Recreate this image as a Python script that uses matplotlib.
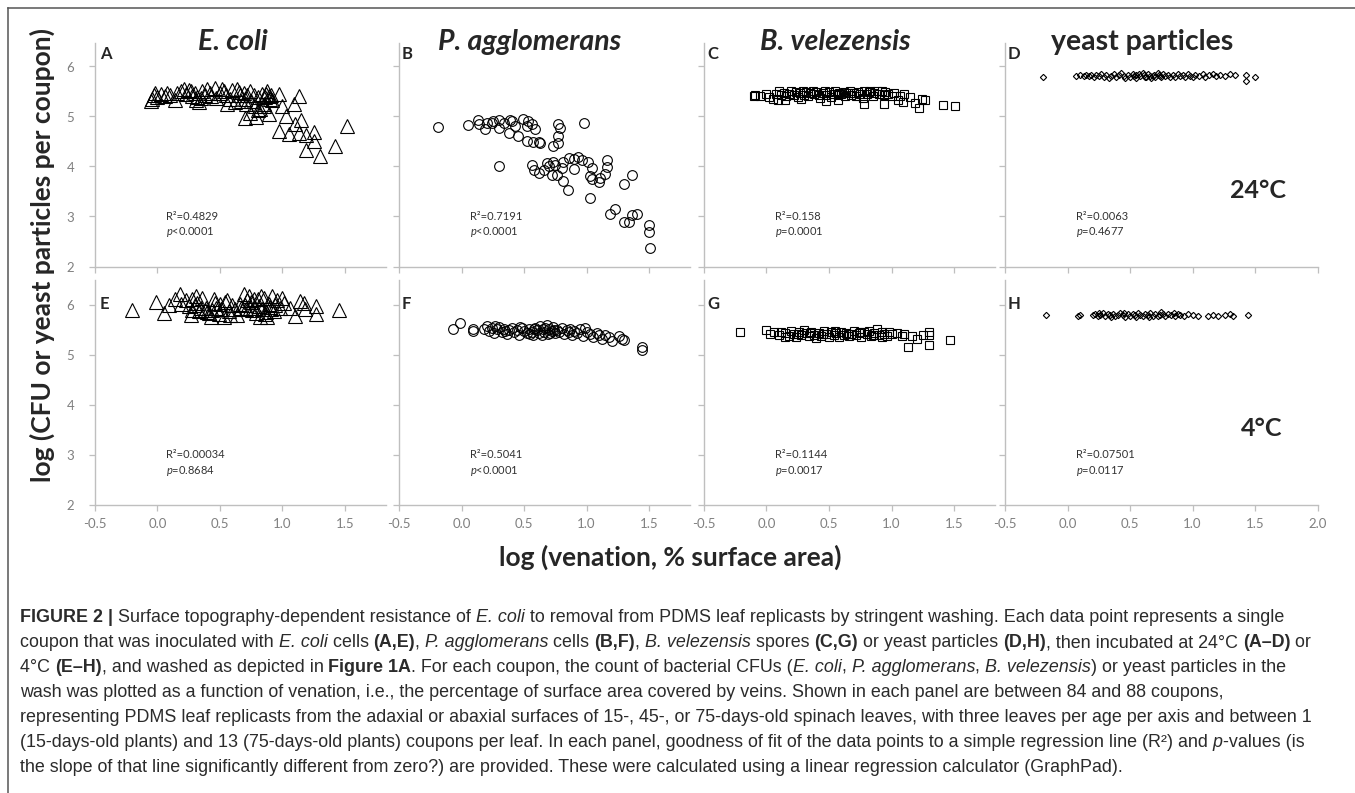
import numpy as np
import matplotlib
matplotlib.use("Agg")
import matplotlib.pyplot as plt
from matplotlib.lines import Line2D

W, H = 1355, 793
PANEL_FONT = "Lato"
CAP_FONT = "Liberation Sans"
CAP_COLOR = "#2b2b2b"
AX_GRAY = "#bfbfbf"
TICK_GRAY = "#808080"

plt.rcParams["mathtext.fontset"] = "custom"
plt.rcParams["mathtext.rm"] = PANEL_FONT
plt.rcParams["mathtext.it"] = PANEL_FONT + ":italic"

# ---- data (log venation, log count) ----
pts_a = np.array([
    (-0.05, 5.30), (-0.04, 5.35), (-0.03, 5.42), (-0.02, 5.47), (0.00, 5.38), (0.03, 5.44),
    (0.06, 5.40), (0.08, 5.47), (0.10, 5.42), (0.14, 5.33), (0.16, 5.46), (0.19, 5.50),
    (0.21, 5.55), (0.23, 5.45), (0.25, 5.53), (0.27, 5.50), (0.28, 5.41), (0.30, 5.47),
    (0.31, 5.33), (0.32, 5.38), (0.33, 5.29), (0.35, 5.37), (0.36, 5.52), (0.38, 5.42),
    (0.40, 5.55), (0.42, 5.47), (0.43, 5.40), (0.46, 5.57), (0.47, 5.36), (0.50, 5.47),
    (0.52, 5.55), (0.53, 5.50), (0.55, 5.42), (0.56, 5.25), (0.58, 5.35), (0.60, 5.53),
    (0.62, 5.28), (0.64, 5.55), (0.65, 5.48), (0.66, 5.43), (0.67, 5.30), (0.69, 5.47),
    (0.70, 5.35), (0.71, 5.24), (0.72, 5.42), (0.74, 5.50), (0.75, 5.30), (0.77, 5.43),
    (0.78, 5.20), (0.80, 5.38), (0.82, 5.15), (0.84, 5.44), (0.85, 5.25), (0.86, 5.38),
    (0.87, 5.45), (0.88, 5.50), (0.89, 5.40), (0.90, 5.35), (0.91, 5.42), (0.92, 5.33),
    (0.70, 4.97), (0.74, 5.07), (0.79, 4.98), (0.80, 5.13), (0.85, 5.20), (0.89, 5.05),
    (0.97, 5.45), (1.00, 5.21), (1.03, 5.00), (0.97, 4.71), (1.05, 4.65), (1.09, 5.25),
    (1.13, 5.40), (1.10, 4.85), (1.15, 4.93), (1.13, 4.67), (1.19, 4.63), (1.25, 4.69),
    (1.25, 4.52), (1.19, 4.32), (1.30, 4.21), (1.42, 4.41), (1.52, 4.80),
])
pts_b = np.array([
    (-0.19, 4.79), (0.05, 4.82), (0.13, 4.92), (0.14, 4.85), (0.19, 4.75), (0.20, 4.87),
    (0.24, 4.86), (0.25, 4.90), (0.30, 4.92), (0.30, 4.77), (0.34, 4.87), (0.38, 4.67),
    (0.39, 4.93), (0.40, 4.91), (0.43, 4.81), (0.45, 4.60), (0.49, 4.94), (0.52, 4.81),
    (0.53, 4.91), (0.56, 4.84), (0.59, 4.74), (0.52, 4.50), (0.57, 4.49), (0.62, 4.49),
    (0.63, 4.46), (0.77, 4.85), (0.79, 4.77), (0.77, 4.60), (0.77, 4.46), (0.73, 4.40),
    (0.98, 4.87), (0.30, 4.01),
    (0.56, 4.03), (0.58, 3.93), (0.62, 3.86), (0.66, 3.93), (0.68, 4.07), (0.70, 4.01),
    (0.73, 4.09), (0.75, 4.03), (0.76, 3.83), (0.72, 3.83), (0.80, 3.97), (0.81, 3.70),
    (0.85, 3.53), (0.81, 4.09), (0.86, 4.17), (0.90, 3.95), (0.93, 4.19), (0.96, 4.13),
    (1.01, 4.08), (1.04, 3.97), (1.03, 3.80), (1.04, 3.75), (1.03, 3.37), (1.10, 3.69),
    (1.11, 3.77), (1.15, 3.84), (1.16, 3.99), (1.16, 4.12), (0.90, 4.15), (1.30, 3.65),
    (1.36, 3.82),
    (1.19, 3.05), (1.23, 3.15), (1.30, 2.89), (1.34, 2.89), (1.36, 3.03), (1.40, 3.05),
    (1.50, 2.83), (1.50, 2.68), (1.51, 2.37),
])
pts_c = np.array([
    (-0.10, 5.40), (-0.09, 5.43), (-0.05, 5.41), (0.00, 5.45), (0.02, 5.38), (0.05, 5.35),
    (0.08, 5.45), (0.10, 5.52), (0.09, 5.32), (0.12, 5.42), (0.14, 5.47), (0.15, 5.33),
    (0.16, 5.40), (0.18, 5.45), (0.20, 5.50), (0.22, 5.43), (0.24, 5.48), (0.25, 5.38),
    (0.27, 5.46), (0.28, 5.35), (0.29, 5.50), (0.30, 5.42), (0.32, 5.48), (0.33, 5.40),
    (0.35, 5.47), (0.37, 5.52), (0.38, 5.44), (0.40, 5.49), (0.42, 5.42), (0.43, 5.36),
    (0.45, 5.47), (0.47, 5.51), (0.48, 5.43), (0.48, 5.30), (0.50, 5.48), (0.52, 5.38),
    (0.53, 5.45), (0.55, 5.50), (0.57, 5.42), (0.57, 5.33), (0.58, 5.47), (0.60, 5.44),
    (0.62, 5.49), (0.63, 5.40), (0.65, 5.46), (0.67, 5.51), (0.68, 5.43), (0.70, 5.47),
    (0.72, 5.41), (0.73, 5.49), (0.75, 5.45), (0.77, 5.36), (0.78, 5.26), (0.78, 5.50),
    (0.80, 5.44), (0.82, 5.48), (0.83, 5.52), (0.85, 5.40), (0.86, 5.46), (0.88, 5.50),
    (0.90, 5.45), (0.92, 5.52), (0.94, 5.26), (0.94, 5.42), (0.95, 5.48), (0.97, 5.44),
    (1.00, 5.40), (1.02, 5.46), (1.05, 5.33), (1.07, 5.41), (1.09, 5.28), (1.10, 5.44),
    (1.15, 5.38), (1.19, 5.27), (1.22, 5.17), (1.24, 5.35), (1.27, 5.33), (1.41, 5.23),
    (1.51, 5.20),
])
pts_d = np.array([
    (-0.20, 5.79), (0.07, 5.80), (0.10, 5.82), (0.13, 5.81), (0.15, 5.83), (0.17, 5.80),
    (0.19, 5.82), (0.21, 5.78), (0.23, 5.83), (0.25, 5.80), (0.27, 5.84), (0.29, 5.79),
    (0.31, 5.82), (0.33, 5.77), (0.35, 5.81), (0.37, 5.84), (0.39, 5.79), (0.41, 5.82),
    (0.43, 5.86), (0.45, 5.80), (0.46, 5.76), (0.48, 5.83), (0.50, 5.79), (0.52, 5.85),
    (0.53, 5.81), (0.55, 5.77), (0.55, 5.83), (0.57, 5.84), (0.58, 5.80), (0.60, 5.87),
    (0.61, 5.82), (0.62, 5.79), (0.63, 5.78), (0.64, 5.85), (0.66, 5.81), (0.67, 5.76),
    (0.68, 5.81), (0.69, 5.83), (0.70, 5.79), (0.72, 5.86), (0.73, 5.82), (0.74, 5.80),
    (0.75, 5.78), (0.76, 5.84), (0.78, 5.80), (0.80, 5.83), (0.82, 5.79), (0.84, 5.82),
    (0.86, 5.78), (0.88, 5.84), (0.90, 5.80), (0.92, 5.83), (0.94, 5.79), (0.96, 5.85),
    (0.98, 5.81), (1.00, 5.78), (1.02, 5.83), (1.05, 5.80), (1.08, 5.84), (1.10, 5.79),
    (1.13, 5.82), (1.16, 5.85), (1.19, 5.80), (1.22, 5.83), (1.26, 5.81), (1.30, 5.84),
    (1.34, 5.82), (1.43, 5.83), (1.43, 5.71), (1.50, 5.79),
])
pts_e = np.array([
    (-0.20, 5.91), (-0.01, 6.07), (0.05, 5.85), (0.09, 6.00), (0.14, 6.13), (0.18, 6.22),
    (0.19, 6.02), (0.23, 6.10), (0.27, 5.80), (0.28, 5.91), (0.28, 6.13), (0.31, 6.18),
    (0.32, 6.05), (0.33, 5.88), (0.35, 5.95), (0.36, 6.15), (0.38, 5.90), (0.39, 5.95),
    (0.40, 5.87), (0.41, 5.85), (0.43, 5.77), (0.44, 5.90), (0.45, 6.13), (0.47, 5.95),
    (0.49, 5.83), (0.50, 6.02), (0.51, 5.93), (0.53, 5.77), (0.54, 6.07), (0.56, 6.10),
    (0.58, 5.80), (0.60, 6.00), (0.62, 5.92), (0.64, 5.80), (0.67, 5.95), (0.69, 6.22),
    (0.70, 6.00), (0.71, 5.92), (0.72, 6.10), (0.73, 6.18), (0.74, 5.95), (0.75, 6.07),
    (0.76, 5.90), (0.78, 5.95), (0.79, 5.85), (0.80, 6.13), (0.82, 5.77), (0.83, 6.18),
    (0.84, 5.93), (0.85, 6.15), (0.86, 5.83), (0.87, 5.87), (0.88, 5.76), (0.89, 6.03),
    (0.90, 5.96), (0.91, 5.93), (0.92, 6.18), (0.94, 6.00), (0.96, 6.10), (0.98, 5.95),
    (1.00, 6.15), (1.01, 6.05), (1.06, 5.95), (1.10, 5.78), (1.14, 6.08), (1.17, 6.04),
    (1.18, 5.93), (1.27, 5.98), (1.27, 5.83), (1.45, 5.91), (0.25, 5.98), (0.30, 6.01),
    (0.46, 6.04), (0.57, 5.88), (0.66, 6.02), (0.77, 6.12), (0.81, 5.98), (0.93, 5.88),
])
pts_f = np.array([
    (-0.07, 5.53), (-0.01, 5.65), (0.09, 5.53), (0.09, 5.49), (0.18, 5.52), (0.20, 5.58),
    (0.22, 5.49), (0.24, 5.55), (0.26, 5.45), (0.27, 5.58), (0.28, 5.52), (0.30, 5.57),
    (0.32, 5.47), (0.34, 5.53), (0.35, 5.49), (0.36, 5.42), (0.38, 5.50), (0.40, 5.55),
    (0.42, 5.46), (0.44, 5.51), (0.46, 5.40), (0.47, 5.57), (0.48, 5.54), (0.50, 5.48),
    (0.52, 5.44), (0.54, 5.52), (0.55, 5.43), (0.56, 5.47), (0.57, 5.41), (0.58, 5.52),
    (0.59, 5.55), (0.60, 5.50), (0.62, 5.45), (0.63, 5.58), (0.64, 5.40), (0.65, 5.52),
    (0.66, 5.47), (0.67, 5.55), (0.68, 5.60), (0.69, 5.42), (0.70, 5.53), (0.71, 5.45),
    (0.72, 5.49), (0.73, 5.56), (0.74, 5.50), (0.75, 5.44), (0.76, 5.51), (0.78, 5.47),
    (0.80, 5.54), (0.82, 5.43), (0.84, 5.50), (0.86, 5.46), (0.87, 5.53), (0.88, 5.41),
    (0.90, 5.49), (0.92, 5.45), (0.95, 5.52), (0.97, 5.38), (0.99, 5.55), (1.00, 5.47),
    (1.03, 5.43), (1.05, 5.37), (1.08, 5.45), (1.10, 5.40), (1.12, 5.33), (1.15, 5.40),
    (1.18, 5.36), (1.20, 5.28), (1.26, 5.38), (1.28, 5.33), (1.30, 5.31), (1.44, 5.17),
    (1.44, 5.11),
])
pts_g = np.array([
    (-0.21, 5.47), (0.00, 5.50), (0.03, 5.43), (0.06, 5.46), (0.10, 5.40), (0.12, 5.47),
    (0.15, 5.44), (0.15, 5.37), (0.18, 5.38), (0.20, 5.48), (0.22, 5.42), (0.24, 5.36),
    (0.25, 5.43), (0.26, 5.46), (0.28, 5.40), (0.30, 5.50), (0.32, 5.44), (0.34, 5.38),
    (0.35, 5.45), (0.36, 5.47), (0.38, 5.41), (0.40, 5.35), (0.42, 5.45), (0.44, 5.39),
    (0.45, 5.42), (0.46, 5.49), (0.48, 5.43), (0.50, 5.37), (0.52, 5.46), (0.54, 5.40),
    (0.55, 5.48), (0.56, 5.44), (0.58, 5.36), (0.60, 5.47), (0.62, 5.41), (0.64, 5.45),
    (0.65, 5.42), (0.66, 5.38), (0.68, 5.43), (0.70, 5.48), (0.72, 5.40), (0.74, 5.44),
    (0.75, 5.47), (0.76, 5.37), (0.78, 5.46), (0.80, 5.42), (0.82, 5.49), (0.84, 5.39),
    (0.85, 5.40), (0.86, 5.45), (0.88, 5.52), (0.90, 5.41), (0.92, 5.47), (0.92, 5.36),
    (0.94, 5.43), (0.96, 5.38), (0.98, 5.46), (1.00, 5.42), (1.04, 5.45), (1.08, 5.39),
    (1.10, 5.43), (1.13, 5.17), (1.16, 5.38), (1.20, 5.33), (1.25, 5.40), (1.30, 5.20),
    (1.30, 5.40), (1.30, 5.47), (1.47, 5.31),
])
pts_h = np.array([
    (-0.17, 5.80), (0.08, 5.79), (0.10, 5.81), (0.20, 5.80), (0.22, 5.83), (0.24, 5.78),
    (0.25, 5.85), (0.26, 5.81), (0.28, 5.84), (0.30, 5.79), (0.32, 5.82), (0.34, 5.80),
    (0.35, 5.77), (0.36, 5.83), (0.38, 5.78), (0.40, 5.81), (0.42, 5.84), (0.44, 5.80),
    (0.45, 5.85), (0.46, 5.77), (0.48, 5.82), (0.50, 5.79), (0.52, 5.83), (0.54, 5.80),
    (0.55, 5.76), (0.56, 5.85), (0.58, 5.81), (0.60, 5.78), (0.62, 5.83), (0.64, 5.80),
    (0.65, 5.77), (0.66, 5.84), (0.68, 5.79), (0.70, 5.82), (0.72, 5.78), (0.74, 5.81),
    (0.75, 5.86), (0.76, 5.83), (0.78, 5.79), (0.80, 5.82), (0.83, 5.80), (0.85, 5.84),
    (0.86, 5.78), (0.88, 5.82), (0.90, 5.80), (0.93, 5.79), (0.96, 5.82), (1.00, 5.80),
    (1.04, 5.79), (1.12, 5.78), (1.16, 5.81), (1.20, 5.79), (1.26, 5.80), (1.30, 5.82),
    (1.32, 5.78), (1.44, 5.80),
])

organisms = ["E. coli", "P. agglomerans", "B. velezensis", "yeast particles"]
title_italic = [True, True, True, False]
panel_letters = ["A", "B", "C", "D", "E", "F", "G", "H"]
panel_points = [pts_a, pts_b, pts_c, pts_d, pts_e, pts_f, pts_g, pts_h]
panel_markers = ["^", "o", "s", "D", "^", "o", "s", "D"]
r2_labels = ["0.4829", "0.7191", "0.158", "0.0063", "0.00034", "0.5041", "0.1144", "0.07501"]
p_labels = ["<0.0001", "<0.0001", "=0.0001", "=0.4677", "=0.8684", "<0.0001", "=0.0017", "=0.0117"]
temps = ["24°C", "4°C"]
x_ticks = [-0.5, 0.0, 0.5, 1.0, 1.5, 2.0]
y_ticks = [2, 3, 4, 5, 6]

# ---- layout in pixels ----
col_left = [95, 399, 704, 1005]
row_top = [43, 280]
row_ymax = [6.47, 6.5]
px_per_x, px_per_y = 125, 50
x_max = [1.83, 1.83, 1.83, 2.0]
marker_size = {"^": 9.5, "o": 7, "s": 6, "D": 3.2}

fig = plt.figure(figsize=(W / 100, H / 100), dpi=100)


def fpos(x, y):
    return x / W, 1 - y / H


for k in range(8):
    r, c = divmod(k, 4)
    left = col_left[c]
    width = (x_max[c] + 0.5) * px_per_x
    height = (row_ymax[r] - 2) * px_per_y
    ax = fig.add_axes([left / W, 1 - (row_top[r] + height) / H, width / W, height / H])
    ax.patch.set_alpha(0)
    pts = panel_points[k]
    ax.plot(pts[:, 0], pts[:, 1], linestyle="none", marker=panel_markers[k],
            markersize=marker_size[panel_markers[k]],
            markerfacecolor="none", markeredgecolor="black", markeredgewidth=0.8)
    ax.set_xlim(-0.5, x_max[c])
    ax.set_ylim(2, row_ymax[r])
    ax.set_xticks([t for t in x_ticks if t <= x_max[c] + 1e-9])
    ax.set_yticks(y_ticks)
    for s in ["top", "right"]:
        ax.spines[s].set_visible(False)
    for s in ["left", "bottom"]:
        ax.spines[s].set_color(AX_GRAY)
        ax.spines[s].set_linewidth(1.0)
    ax.tick_params(length=4, width=0.9, color=AX_GRAY, labelcolor=TICK_GRAY,
                   labelsize=9.5)
    ax.tick_params(axis="y", pad=11)
    ax.tick_params(axis="x", pad=5)
    for lab in ax.get_xticklabels() + ax.get_yticklabels():
        lab.set_family(PANEL_FONT)
    ax.xaxis.set_major_formatter(matplotlib.ticker.FormatStrFormatter("%.1f"))
    if r == 0:
        ax.tick_params(labelbottom=False)
    if c > 0:
        ax.tick_params(labelleft=False)
    ax.text(0.07, 3.0, "R²=" + r2_labels[k], fontsize=8, family=PANEL_FONT,
            color="#333333", va="center")
    ax.text(0.07, 2.69, "$p$" + p_labels[k], fontsize=8, family=PANEL_FONT,
            color="#333333", va="center")
    lx = col_left[c] + (5 if c == 0 else 3)
    ly = row_top[r] + 11 if r == 0 else row_top[r] + 24
    fig.text(*fpos(lx, ly), panel_letters[k], fontsize=12, fontweight="bold",
             family=PANEL_FONT, color="#262626", va="center", ha="left")

# organism titles
title_x = [233, 530, 835, 1142]
for c in range(4):
    fig.text(*fpos(title_x[c], 42), organisms[c], fontsize=20.5, fontweight="bold",
             fontstyle="italic" if title_italic[c] else "normal",
             family=PANEL_FONT, color="#262626", ha="center", va="center")

fig.text(*fpos(1258, 190), temps[0], fontsize=18, fontweight="bold",
         family=PANEL_FONT, color="#262626", ha="center", va="center")
fig.text(*fpos(1262, 428), temps[1], fontsize=18, fontweight="bold",
         family=PANEL_FONT, color="#262626", ha="center", va="center")

fig.text(*fpos(42, 255), "log (CFU or yeast particles per coupon)", rotation=90,
         fontsize=19, fontweight="bold", family=PANEL_FONT, color="#262626",
         ha="center", va="center")
fig.text(*fpos(670, 557), "log (venation, % surface area)", fontsize=19,
         fontweight="bold", family=PANEL_FONT, color="#262626",
         ha="center", va="center")

# frame around the figure
fig.add_artist(Line2D([8 / W, 8 / W], [0, 1 - 8 / H], color="#555555", lw=1.1))
fig.add_artist(Line2D([8 / W, 1], [1 - 8 / H, 1 - 8 / H], color="#555555", lw=1.1))

# ---- caption ----
caption_lines = [
    [("FIGURE 2 |", "b"), (" Surface topography-dependent resistance of ", ""), ("E. coli", "i"),
     (" to removal from PDMS leaf replicasts by stringent washing. Each data point represents a single", "")],
    [("coupon that was inoculated with ", ""), ("E. coli", "i"), (" cells ", ""), ("(A,E)", "b"),
     (", ", ""), ("P. agglomerans", "i"), (" cells ", ""), ("(B,F)", "b"), (", ", ""),
     ("B. velezensis", "i"), (" spores ", ""), ("(C,G)", "b"), (" or yeast particles ", ""),
     ("(D,H)", "b"), (", then incubated at 24°C ", ""), ("(A–D)", "b"), (" or", "")],
    [("4°C ", ""), ("(E–H)", "b"), (", and washed as depicted in ", ""), ("Figure 1A", "b"),
     (". For each coupon, the count of bacterial CFUs (", ""), ("E. coli", "i"), (", ", ""),
     ("P. agglomerans", "i"), (", ", ""), ("B. velezensis", "i"), (") or yeast particles in the", "")],
    [("wash was plotted as a function of venation, i.e., the percentage of surface area covered "
      "by veins. Shown in each panel are between 84 and 88 coupons,", "")],
    [("representing PDMS leaf replicasts from the adaxial or abaxial surfaces of 15-, 45-, or "
      "75-days-old spinach leaves, with three leaves per age per axis and between 1", "")],
    [("(15-days-old plants) and 13 (75-days-old plants) coupons per leaf. In each panel, goodness "
      "of fit of the data points to a simple regression line (R²) and ", ""), ("p", "i"),
     ("-values (is", "")],
    [("the slope of that line significantly different from zero?) are provided. These were "
      "calculated using a linear regression calculator (GraphPad).", "")],
]

renderer = fig.canvas.get_renderer()
cap_size = 12.9


def seg_kw(style):
    return dict(fontsize=cap_size, family=CAP_FONT, color=CAP_COLOR,
                fontweight="bold" if "b" in style else "normal",
                fontstyle="italic" if "i" in style else "normal")


def seg_width(txt, style):
    kw = seg_kw(style)
    a = fig.text(0, 0, txt + "|", **kw)
    b = fig.text(0, 0, "|", **kw)
    w = a.get_window_extent(renderer).width - b.get_window_extent(renderer).width
    a.remove()
    b.remove()
    return w


for i, line in enumerate(caption_lines):
    x = 20
    y = 622 + i * 25
    for txt, style in line:
        fig.text(*fpos(x, y), txt, va="baseline", ha="left", **seg_kw(style))
        x += seg_width(txt, style)

fig.savefig("out.png", dpi=100)
